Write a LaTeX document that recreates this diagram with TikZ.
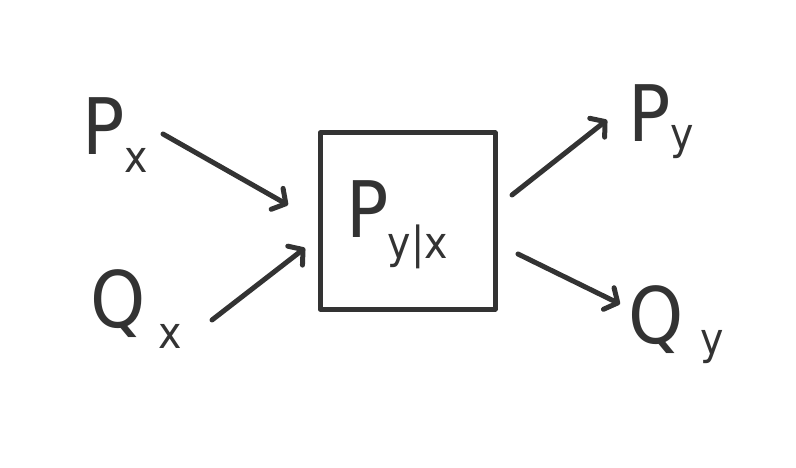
\documentclass[tikz,border=0pt]{standalone}
\usepackage{fontspec}
\setmainfont{DejaVu Sans Condensed}
\usetikzlibrary{arrows.meta}
\definecolor{ink}{HTML}{333333}
\tikzset{
  pen/.style={draw=ink, line width=5pt, line cap=round, line join=round},
  arr/.style={pen, -{Straight Barb[length=10pt,width=24pt,line width=5pt,round]}},
  big/.style={text=ink, inner sep=0pt, font=\fontsize{78}{78}\selectfont},
  sub/.style={text=ink, inner sep=0pt, font=\fontsize{44}{44}\selectfont}
}
\begin{document}
\begin{tikzpicture}[x=1pt,y=-1pt]
\useasboundingbox (0,0) rectangle (796,468);
% box
\node[pen, minimum width=175pt, minimum height=176pt, inner sep=0pt] (box) at (407.5,221) {};
% labels
\node[big] (px) at (104,126) {P};
\node[sub] (pxs) at (136,160) {x};
\node[big] (qx) at (118,304) {Q};
\node[sub] (qxs) at (170,336) {x};
\node[big] (pyx) at (368,209) {P};
\node[sub] (pyxs) at (418,247) {y|x};
\node[big] (py) at (650,113) {P};
\node[sub] (pys) at (682,142) {y};
\node[big] (qy) at (656,320) {Q};
\node[sub] (qys) at (712,347) {y};
% arrow ends
\coordinate (a1s) at (163,134); \coordinate (a1e) at (288,205);
\coordinate (a2s) at (212,320); \coordinate (a2e) at (305,248);
\coordinate (a3s) at (512,195); \coordinate (a3e) at (607,120);
\coordinate (a4s) at (518,254); \coordinate (a4e) at (620,304);
\draw[arr] (a1s) -- (a1e);
\draw[arr] (a2s) -- (a2e);
\draw[arr] (a3s) -- (a3e);
\draw[arr] (a4s) -- (a4e);
\end{tikzpicture}
\end{document}
